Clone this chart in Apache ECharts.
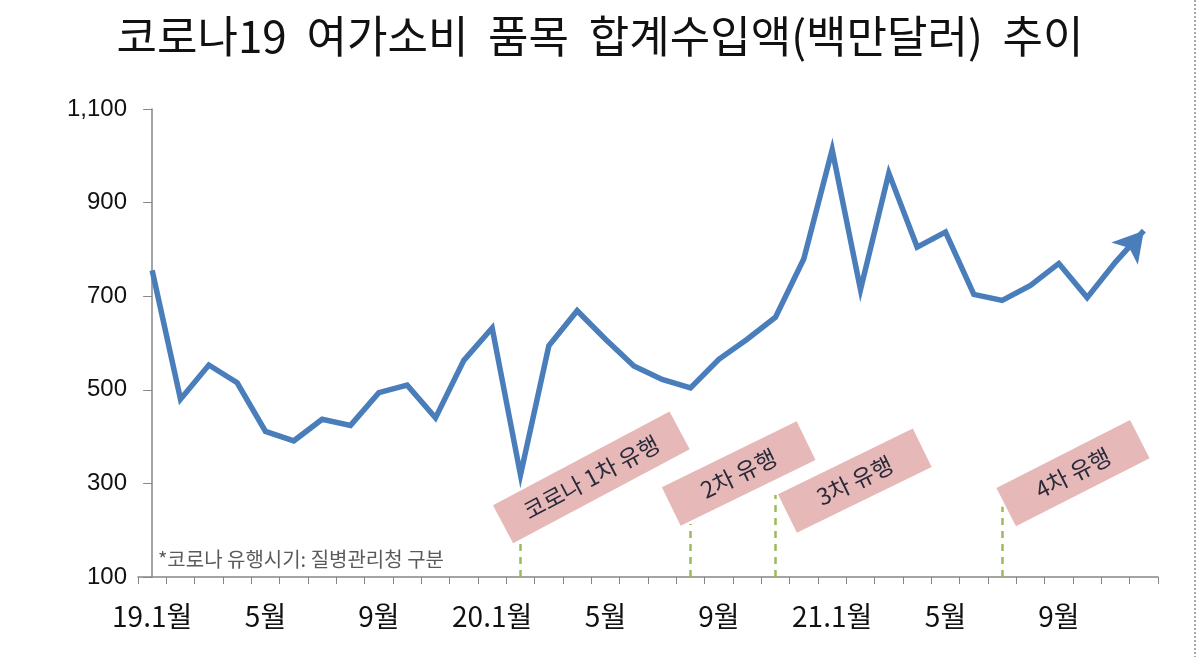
<!DOCTYPE html>
<html>
<head>
<meta charset="utf-8">
<script src="https://cdn.jsdelivr.net/npm/echarts@6/dist/echarts.min.js"></script>
<style>
html,body{margin:0;padding:0;background:#fff;}
#chart{width:1200px;height:657px;}
</style>
</head>
<body>
<div id="chart"></div>
<script>
// ---- data ----
const categories = [
  '19.1월','2월','3월','4월','5월','6월','7월','8월','9월','10월','11월','12월',
  '20.1월','2월','3월','4월','5월','6월','7월','8월','9월','10월','11월','12월',
  '21.1월','2월','3월','4월','5월','6월','7월','8월','9월','10월','11월','12월'
];
const importValues = [
  755, 480, 553, 515, 411, 391, 437, 424, 494, 510, 440, 563,
  632, 318, 594, 669, 608, 551, 522, 504, 565, 608, 655, 780,
  1013, 714, 963, 805, 837, 704, 691, 723, 770, 697, 773, 840
];
const yTicks = [100, 300, 500, 700, 900, 1100];
const waveLabels = ['코로나 1차 유행', '2차 유행', '3차 유행', '4차 유행'];
const waveStartIdx = [13, 19, 22, 30];
const waveLineTop = [175, 213, 275, 250];
const waveBoxX = [15.5, 20.7, 24.8, 32.5];
const waveBoxY = [313, 321, 306, 322];
const titleText = '코로나19  여가소비  품목  합계수입액(백만달러)  추이';
const noteText = '*코로나 유행시기: 질병관리청 구분';

// ---- chart ----
const chart = echarts.init(document.getElementById('chart'), null, {renderer: 'canvas'});
const FONT = '"Noto Sans CJK KR", "Noto Sans", sans-serif';
const boxSizes = [[200, 43], [150, 43], [150, 43], [150, 43]];
const boxRot = [28, 26, 26, 27];
const lastIdx = importValues.length - 1;

const boxData = waveLabels.map((t, i) => ({
  value: [waveBoxX[i], waveBoxY[i]],
  name: t,
  symbolSize: boxSizes[i],
  symbolRotate: boxRot[i],
  label: {rotate: boxRot[i]}
}));

const waveLines = waveStartIdx.map((x, i) => [
  {coord: [x, yTicks[0]]},
  {coord: [x, waveLineTop[i]]}
]);

chart.setOption({
  animation: false,
  backgroundColor: '#ffffff',
  title: [{
    text: titleText,
    left: 'center',
    top: 9,
    textStyle: {fontFamily: FONT, fontSize: 44, fontWeight: 'normal', color: '#111'}
  }, {
    text: noteText,
    left: 153,
    top: 544,
    textStyle: {fontFamily: FONT, fontSize: 20, fontWeight: 'normal', color: '#5a5a5a'}
  }],
  grid: {left: 138, right: 42, top: 109, bottom: 80, containLabel: false},
  xAxis: [{
    type: 'category',
    data: categories,
    boundaryGap: true,
    axisLine: {show: true, lineStyle: {color: '#868686', width: 1.5}},
    axisTick: {show: true, interval: 0, length: 7, lineStyle: {color: '#868686'}},
    axisLabel: {interval: 3, margin: 25, fontFamily: FONT, fontSize: 28, color: '#111'},
    splitLine: {show: false}
  }, {
    type: 'value',
    min: -0.5,
    max: 35.5,
    show: false
  }],
  yAxis: {
    type: 'value',
    min: 100,
    max: 1100,
    interval: 200,
    axisLine: {show: true, lineStyle: {color: '#868686', width: 1.5}},
    axisTick: {show: true, length: 9, lineStyle: {color: '#868686'}},
    axisLabel: {
      margin: 11, fontFamily: 'Liberation Sans, Arial, sans-serif', fontSize: 24, color: '#111',
      formatter: v => Number(v).toLocaleString('en-US')
    },
    splitLine: {show: false}
  },
  series: [{
    type: 'line',
    data: importValues,
    showSymbol: true,
    showAllSymbol: true,
    symbol: (v, p) => (p.dataIndex === lastIdx ? 'arrow' : 'none'),
    symbolSize: (v, p) => (p.dataIndex === lastIdx ? [26, 30] : 0),
    symbolRotate: (v, p) => (p.dataIndex === lastIdx ? -40 : 0),
    lineStyle: {color: '#4A7EBB', width: 5.5, join: 'miter'},
    itemStyle: {color: '#4A7EBB'},
    markLine: {
      silent: true,
      symbol: ['none', 'none'],
      label: {show: false},
      lineStyle: {color: '#9BBB59', type: [7, 6], width: 2.5},
      data: waveLines
    },
    z: 3
  }, {
    type: 'scatter',
    xAxisIndex: 1,
    data: boxData,
    symbol: 'rect',
    itemStyle: {color: '#E6B9B8', opacity: 1},
    label: {
      show: true,
      position: 'inside',
      formatter: p => p.name,
      fontFamily: FONT,
      fontSize: 23,
      color: '#2a2a3a'
    },
    z: 4
  }],
  graphic: [{
    type: 'line',
    shape: {x1: 1195, y1: 0, x2: 1195, y2: 657},
    style: {stroke: '#555', lineWidth: 1, lineDash: [2, 2]}
  }]
});
</script>
</body>
</html>
